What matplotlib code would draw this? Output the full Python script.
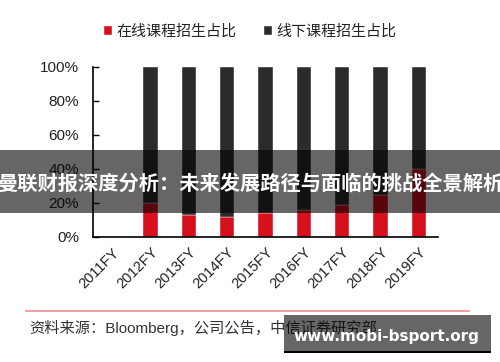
import matplotlib
matplotlib.use("Agg")
import matplotlib.pyplot as plt
from matplotlib.patches import Rectangle
import numpy as np

plt.rcParams['font.family'] = ['Liberation Sans', 'Noto Sans CJK SC', 'DejaVu Sans']

years = ['2011FY', '2012FY', '2013FY', '2014FY', '2015FY', '2016FY', '2017FY', '2018FY', '2019FY']
online = [0, 20, 13, 12, 14, 16, 19, 25, 40]
offline = [0, 80, 87, 88, 86, 84, 81, 75, 60]
series_names = ['在线课程招生占比', '线下课程招生占比']
y_ticks = [0, 20, 40, 60, 80, 100]
y_tick_labels = ['0%', '20%', '40%', '60%', '80%', '100%']

RED = '#d7101e'
DARK = '#2b2b2b'

W, H = 500, 362
fig = plt.figure(figsize=(W / 100, H / 100), dpi=100)
fig.patch.set_facecolor('white')

ax = fig.add_axes([93 / W, 1 - 237 / H, (438 - 93) / W, (237 - 67) / H])
x = np.arange(len(years))
b1 = ax.bar(x, online, width=0.38, color=RED, edgecolor='white', linewidth=0.3, label=series_names[0])
b2 = ax.bar(x, offline, width=0.38, bottom=online, color=DARK, edgecolor='white', linewidth=0.3, label=series_names[1])

ax.set_xlim(-0.5, len(years) - 0.5)
ax.set_ylim(0, 100)
ax.set_yticks(y_ticks)
ax.set_yticklabels(y_tick_labels, fontsize=11, color='#222222')
ax.tick_params(axis='y', direction='in', length=4, width=1, pad=10)
ax.set_xticks(x)
ax.set_xticklabels(years, rotation=45, ha='right', rotation_mode='anchor', fontsize=10.5, color='#222222')
ax.tick_params(axis='x', length=0, pad=6)
for s in ['top', 'right']:
    ax.spines[s].set_visible(False)
for s in ['left', 'bottom']:
    ax.spines[s].set_linewidth(1.2)
    ax.spines[s].set_color('black')

leg = fig.legend(handles=[b1, b2], labels=series_names, loc='center', bbox_to_anchor=(0.5, 1 - 32 / H),
                 ncol=2, frameon=False, fontsize=10.8, handlelength=0.55, handleheight=0.55,
                 handletextpad=0.3, columnspacing=1.8)
for t in leg.get_texts():
    t.set_color('#222222')

# separator line and source
fig.add_artist(plt.Line2D([26 / W, 469 / W], [1 - 311 / H, 1 - 311 / H], color='#e89090', linewidth=1.2))
fig.text(29 / W, 1 - 328 / H, '资料来源：Bloomberg，公司公告，中信证券研究部', fontsize=11, color='#333333',
         ha='left', va='center')

# overlay banner
fig.add_artist(Rectangle((0, 1 - 213 / H), 1, 63 / H, transform=fig.transFigure, facecolor='black',
                         alpha=0.6, edgecolor='none', zorder=10))
fig.text(0.5, 1 - 183 / H, '曼联财报深度分析：未来发展路径与面临的挑战全景解析', fontsize=14.6,
         fontweight='bold', color='white', ha='center', va='center', zorder=11,
         family=['Noto Sans CJK SC', 'DejaVu Sans'])

# watermark
fig.add_artist(Rectangle((284 / W, 1 - 351 / H), 207 / W, 36 / H, transform=fig.transFigure,
                         facecolor='black', alpha=0.6, edgecolor='none', zorder=10))
fig.add_artist(Rectangle((284 / W, 1 - 353 / H), 207 / W, 2 / H, transform=fig.transFigure,
                         facecolor='black', edgecolor='none', zorder=10))
fig.text(386 / W, 1 - 336 / H, 'www.mobi-bsport.org', fontsize=11, fontweight='bold', color='white',
         ha='center', va='center', zorder=11, family=['DejaVu Sans'])

fig.savefig('out.png', dpi=100, facecolor='white')
